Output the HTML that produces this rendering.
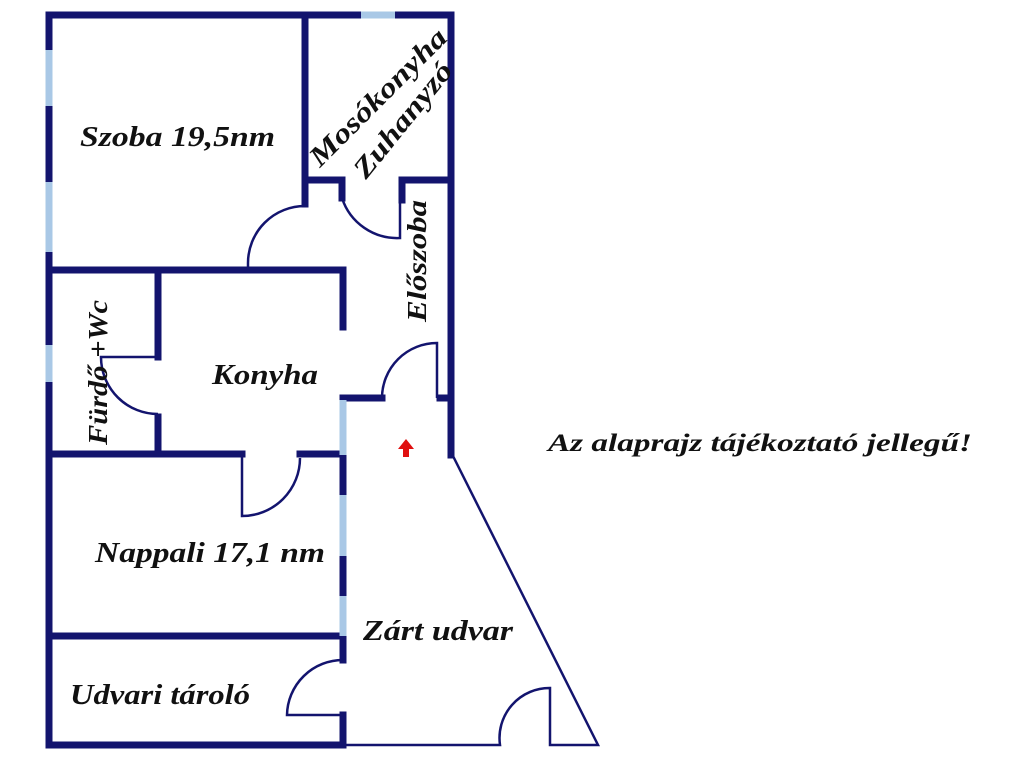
<!DOCTYPE html>
<html><head><meta charset="utf-8"><style>
html,body{margin:0;padding:0;background:#fff;}
svg{display:block;}
text{font-family:"Liberation Serif",serif;font-style:italic;font-weight:bold;fill:#111;}
</style></head><body>
<svg width="1024" height="768" viewBox="0 0 1024 768" xmlns="http://www.w3.org/2000/svg">
<g stroke="#13146e" stroke-width="7" stroke-linecap="square" fill="none">
<line x1="49" y1="15" x2="451" y2="15"/>
<line x1="49" y1="15" x2="49" y2="745"/>
<line x1="451" y1="15" x2="451" y2="455"/>
<line x1="49" y1="745" x2="343" y2="745"/>
<line x1="305" y1="15" x2="305" y2="204"/>
<line x1="305" y1="180" x2="342" y2="180"/>
<line x1="402" y1="180" x2="451" y2="180"/>
<line x1="342" y1="180" x2="342" y2="198"/>
<line x1="402" y1="180" x2="402" y2="200"/>
<line x1="49" y1="270" x2="343" y2="270"/>
<line x1="343" y1="270" x2="343" y2="327"/>
<line x1="158" y1="270" x2="158" y2="357"/>
<line x1="158" y1="417" x2="158" y2="454"/>
<line x1="49" y1="454" x2="242" y2="454"/>
<line x1="300" y1="454" x2="343" y2="454"/>
<line x1="343" y1="398" x2="382" y2="398"/>
<line x1="440" y1="398" x2="451" y2="398"/>
<line x1="343" y1="398" x2="343" y2="660"/>
<line x1="343" y1="715" x2="343" y2="745"/>
<line x1="49" y1="636" x2="343" y2="636"/>
</g>
<g stroke="#a9c8e6" stroke-width="7">
<line x1="49" y1="50" x2="49" y2="106"/>
<line x1="49" y1="182" x2="49" y2="252"/>
<line x1="49" y1="345" x2="49" y2="382"/>
<line x1="361" y1="15" x2="395" y2="15"/>
<line x1="343" y1="400" x2="343" y2="455"/>
<line x1="343" y1="495" x2="343" y2="556"/>
<line x1="343" y1="596" x2="343" y2="636"/>
</g>
<g stroke="#13146e" stroke-width="2.5" fill="none">
<path d="M342 198 A58 58 0 0 0 400 238 L400 180"/>
<path d="M248 270 L248 263 A57 57 0 0 1 305 206"/>
<path d="M158 357 L101 357 A57 57 0 0 0 158 414"/>
<path d="M242 454 L242 516 A58 58 0 0 0 300 458"/>
<path d="M382 398 A55 55 0 0 1 437 343 L437 398"/>
<path d="M343 660 A56 56 0 0 0 287 715 L343 715"/>
<path d="M343 745 L500 745 A50 50 0 0 1 550 688 L550 745 L598 745 L453 456"/>
</g>
<path d="M406 439 L414 449 L409 449 L409 457 L403 457 L403 449 L398 449 Z" fill="#e01010"/>
<text x="80" y="146" font-size="28" textLength="195" lengthAdjust="spacingAndGlyphs">Szoba 19,5nm</text>
<text x="212" y="384" font-size="28" textLength="106" lengthAdjust="spacingAndGlyphs">Konyha</text>
<text x="95" y="562" font-size="28" textLength="230" lengthAdjust="spacingAndGlyphs">Nappali 17,1 nm</text>
<text x="363" y="640" font-size="28" textLength="150" lengthAdjust="spacingAndGlyphs">Zárt udvar</text>
<text x="70" y="704" font-size="28" textLength="180" lengthAdjust="spacingAndGlyphs">Udvari tároló</text>
<text x="548" y="451" font-size="25" textLength="424" lengthAdjust="spacingAndGlyphs">Az alaprajz tájékoztató jellegű!</text>
<text transform="translate(426,322) rotate(-90)" font-size="27" textLength="122" lengthAdjust="spacingAndGlyphs">Előszoba</text>
<text transform="translate(107,445) rotate(-90)" font-size="27" textLength="145" lengthAdjust="spacingAndGlyphs">Fürdő +Wc</text>
<text transform="translate(320,168) rotate(-45)" font-size="28" textLength="182" lengthAdjust="spacingAndGlyphs">Mosókonyha</text>
<text transform="translate(366,180) rotate(-51)" font-size="28" textLength="140" lengthAdjust="spacingAndGlyphs">Zuhanyzó</text>
</svg>
</body></html>
